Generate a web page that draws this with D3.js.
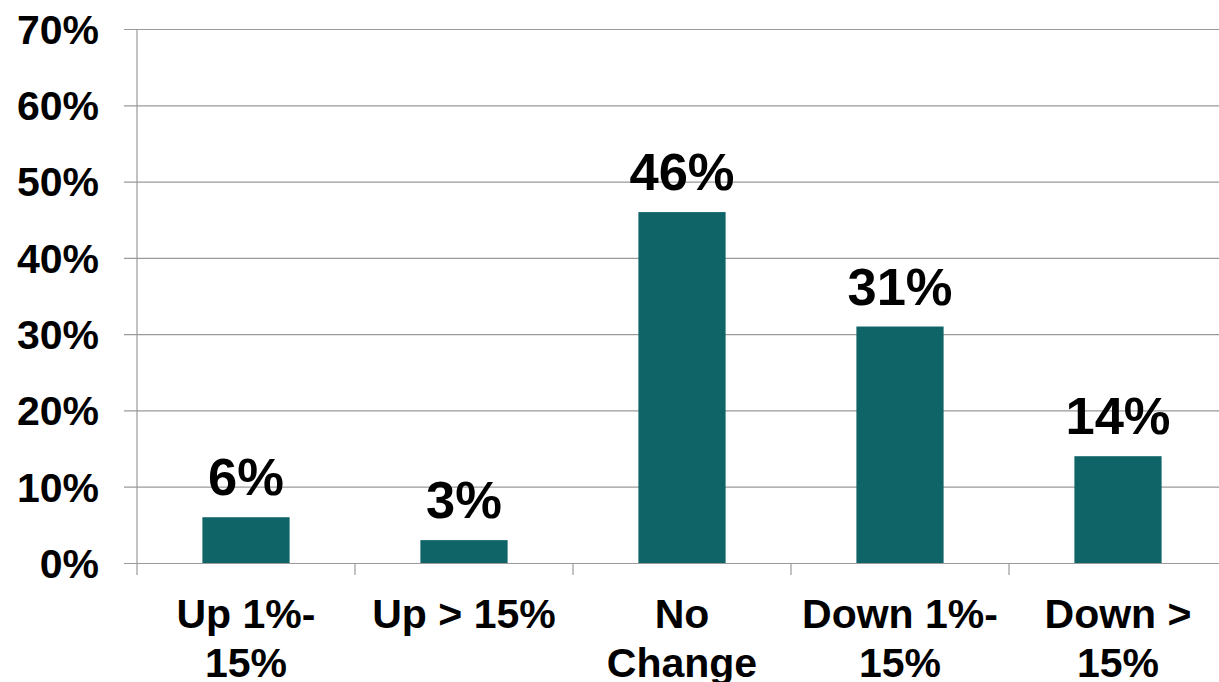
<!DOCTYPE html>
<html>
<head>
<meta charset="utf-8">
<script src="https://cdn.jsdelivr.net/npm/d3@7"></script>
<style>
  html, body { margin: 0; padding: 0; background: #ffffff; }
  svg { display: block; font-family: "Liberation Sans", Arial, sans-serif; font-weight: bold; }
</style>
</head>
<body>
<svg id="chart" width="1219" height="682"></svg>
<script>
// Share of respondents by expected change
const categories = ["Up 1%-15%", "Up > 15%", "No Change", "Down 1%-15%", "Down > 15%"];
const values = [6, 3, 46, 31, 14];
const yTicks = [0, 10, 20, 30, 40, 50, 60, 70];

const svg = d3.select("#chart");
const x0 = 137, x1 = 1227, yBottom = 563, yTop = 29;

const x = d3.scaleBand()
  .domain(categories)
  .range([x0, x1])
  .paddingInner(0.6)
  .paddingOuter(0.3);

const y = d3.scaleLinear().domain([0, 70]).range([yBottom, yTop]);

const gridColor = "#9a9a9a";

// Horizontal gridlines with small outer tick and percentage labels
const yAxis = d3.axisLeft(y)
  .tickValues(yTicks)
  .tickSize(-(x1 - x0) - 13)
  .tickFormat(d => d + "%");

const gy = svg.append("g")
  .attr("transform", `translate(${x1},0)`)
  .call(yAxis);
gy.select(".domain").remove();
gy.selectAll(".tick line")
  .attr("x1", -(x1 - x0) - 13)
  .attr("x2", 0)
  .attr("stroke", gridColor)
  .attr("stroke-width", 1.2);
gy.selectAll(".tick text")
  .attr("x", -(x1 - 99))
  .attr("dy", "0.35em")
  .attr("text-anchor", "end")
  .attr("fill", "#000")
  .style("font-size", "41px")
  .style("font-family", "'Liberation Sans', Arial, sans-serif")
  .style("font-weight", "bold");

// Vertical axis line
svg.append("line")
  .attr("x1", x0).attr("x2", x0)
  .attr("y1", yTop).attr("y2", yBottom + 12)
  .attr("stroke", gridColor).attr("stroke-width", 1.2);

// Category separators below the baseline
const step = x.step();
const bounds = d3.range(categories.length + 1).map(i => x0 + i * step);
svg.selectAll("line.sep")
  .data(bounds.slice(1))
  .join("line")
  .attr("class", "sep")
  .attr("x1", d => d).attr("x2", d => d)
  .attr("y1", yBottom).attr("y2", yBottom + 12)
  .attr("stroke", gridColor).attr("stroke-width", 1.2);

// Bars
svg.selectAll("rect.bar")
  .data(categories)
  .join("rect")
  .attr("class", "bar")
  .attr("x", d => x(d))
  .attr("width", x.bandwidth())
  .attr("y", (d, i) => y(values[i]))
  .attr("height", (d, i) => y(0) - y(values[i]))
  .attr("fill", "#0f6467");

// Value labels
svg.selectAll("text.value")
  .data(categories)
  .join("text")
  .attr("class", "value")
  .attr("x", d => x(d) + x.bandwidth() / 2)
  .attr("y", (d, i) => y(values[i]) - 22)
  .attr("text-anchor", "middle")
  .attr("fill", "#000")
  .style("font-size", "52.5px")
  .text((d, i) => values[i] + "%");

// Category labels, wrapped at spaces or after hyphens
const maxLabelWidth = 205;
const catLabels = svg.selectAll("text.cat")
  .data(categories)
  .join("text")
  .attr("class", "cat")
  .attr("text-anchor", "middle")
  .attr("fill", "#000")
  .style("font-size", "41px")
  .attr("x", d => x(d) + x.bandwidth() / 2)
  .attr("y", 628);

catLabels.each(function(d) {
  const el = d3.select(this);
  const cx = x(d) + x.bandwidth() / 2;
  const tokens = d.match(/[^\s-]+-?/g);
  // keep the spacing that preceded each token
  const parts = [];
  let pos = 0;
  tokens.forEach(t => {
    const idx = d.indexOf(t, pos);
    parts.push({ sep: d.slice(pos, idx), t });
    pos = idx + t.length;
  });
  const lines = [];
  let cur = "";
  const probe = el.append("tspan");
  parts.forEach(p => {
    const trial = cur ? cur + p.sep + p.t : p.t;
    probe.text(trial);
    if (cur && probe.node().getComputedTextLength() > maxLabelWidth) {
      lines.push(cur);
      cur = p.t;
    } else {
      cur = trial;
    }
  });
  lines.push(cur);
  probe.remove();
  lines.forEach((line, i) => {
    el.append("tspan")
      .attr("x", cx)
      .attr("dy", i === 0 ? 0 : 49)
      .text(line);
  });
});
</script>
</body>
</html>
